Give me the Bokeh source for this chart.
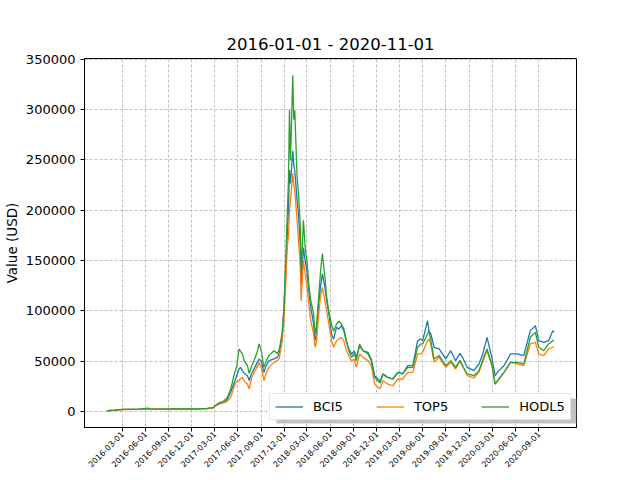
import math
import pandas as pd
from bokeh.plotting import figure
from bokeh.models import (Range1d, FixedTicker, SingleIntervalTicker,
                          DatetimeTickFormatter, BasicTickFormatter, Legend,
                          BoxAnnotation)
from bokeh.embed import file_html
from bokeh.resources import INLINE

# values, roughly every 1-4 weeks
dates = [
    "2016-01-01", "2016-02-01", "2016-03-05", "2016-05-01", "2016-06-12", "2016-06-20", "2016-08-01", "2016-10-01", "2016-12-01",
    "2017-01-01", "2017-02-01", "2017-02-22", "2017-03-05", "2017-03-20", "2017-04-02", "2017-04-20", "2017-05-05", "2017-05-18", "2017-05-28",
    "2017-06-06", "2017-06-12", "2017-06-19", "2017-06-27", "2017-07-09", "2017-07-16", "2017-07-25", "2017-08-04", "2017-08-15", "2017-08-24",
    "2017-09-02", "2017-09-12", "2017-09-20", "2017-10-02", "2017-10-22", "2017-11-04", "2017-11-12", "2017-11-23", "2017-11-30", "2017-12-07",
    "2017-12-13", "2017-12-18", "2017-12-22", "2017-12-26", "2018-01-04", "2018-01-08", "2018-01-12", "2018-01-21", "2018-01-27", "2018-02-03",
    "2018-02-06", "2018-02-15", "2018-02-22", "2018-03-01", "2018-03-07", "2018-03-15", "2018-03-27", "2018-04-02", "2018-04-08", "2018-04-15",
    "2018-04-24", "2018-05-01", "2018-05-11", "2018-05-18", "2018-05-28", "2018-06-06", "2018-06-14", "2018-06-26", "2018-07-05", "2018-07-15",
    "2018-07-25", "2018-08-04", "2018-08-14", "2018-08-24", "2018-09-04", "2018-09-12", "2018-09-25", "2018-10-08", "2018-10-28", "2018-11-10",
    "2018-11-16", "2018-11-23", "2018-12-06", "2018-12-15", "2018-12-26", "2019-01-14", "2019-02-03", "2019-02-23", "2019-03-14", "2019-04-03",
    "2019-04-23", "2019-05-12", "2019-05-25", "2019-06-01", "2019-06-20", "2019-06-26", "2019-07-03", "2019-07-16", "2019-08-05", "2019-08-31",
    "2019-09-20", "2019-10-09", "2019-10-26", "2019-11-05", "2019-11-24", "2019-12-20", "2020-01-09", "2020-01-25", "2020-02-10", "2020-03-01",
    "2020-03-13", "2020-03-28", "2020-04-17", "2020-05-13", "2020-06-08", "2020-07-04", "2020-07-30", "2020-08-19", "2020-09-01", "2020-09-21",
    "2020-10-10", "2020-10-27", "2020-11-01",
]

bci5 = [
    1000, 1500, 2300, 2400, 2800, 2700, 2600, 2600, 2700,
    2900, 3200, 3800, 6000, 8500, 9200, 12000, 20000, 29000, 36000,
    42400, 44000, 40800, 38000, 35800, 31000, 38000, 42400, 48000, 52400,
    50000, 39000, 45000, 50700, 52400, 54000, 58000, 75000, 103700, 140000,
    173000, 200000, 240000, 226600, 259000, 245000, 239500, 209700, 195000, 163000,
    123500, 163000, 150000, 140000, 123500, 105000, 87400, 70500, 78000, 103700,
    125000, 137000, 123500, 110000, 95000, 77000, 72000, 83800, 82000, 85500,
    80000, 68900, 62000, 57400, 60000, 54000, 65600, 60600, 59000, 52400,
    45000, 35800, 32500, 30000, 37500, 34100, 32500, 39100, 37500, 45700,
    45700, 70500, 72300, 70500, 90500, 80000, 77200, 64000, 62300, 52400,
    60600, 50700, 58000, 54000, 44000, 40800, 47400, 58000, 73900, 52400,
    35800, 40800, 45700, 57400, 57400, 55700, 80500, 85500, 70500, 68900,
    70500, 80500, 79000,
]

top5 = [
    1000, 1400, 2200, 2300, 2600, 2600, 2500, 2500, 2600,
    2800, 3000, 3500, 5500, 7500, 8500, 10000, 15000, 25800, 30000,
    30800, 33000, 34100, 30000, 27500, 22600, 33000, 39100, 44000, 49000,
    44000, 30800, 38000, 44000, 49000, 50700, 53000, 70000, 90000, 125000,
    163000, 175000, 200000, 209700, 236600, 225000, 219700, 189800, 170000, 143000,
    110000, 150000, 137000, 125000, 110000, 92000, 77500, 64000, 70000, 93700,
    115000, 123500, 110000, 100000, 85000, 70500, 64000, 70500, 72000, 73900,
    70000, 60600, 55000, 50700, 52000, 44000, 57400, 54000, 50700, 45700,
    38000, 27500, 24200, 23000, 30800, 27500, 25800, 32500, 32500, 39100,
    39100, 57400, 57400, 59000, 70500, 72000, 67300, 49000, 54000, 44000,
    49000, 42400, 50000, 45700, 35800, 33500, 39100, 50000, 60600, 45700,
    27500, 32500, 39100, 49000, 47400, 45700, 67300, 68900, 57400, 55700,
    62300, 64000, 65000,
]

hodl5 = [
    1000, 1500, 2300, 2400, 3600, 2900, 2600, 2700, 2800,
    3000, 3300, 4000, 6500, 9000, 9800, 14000, 23000, 37500, 45000,
    62300, 60000, 57400, 50000, 45700, 38000, 45000, 50700, 58000, 67300,
    60000, 44000, 50000, 55700, 60600, 57700, 62000, 78000, 100000, 150000,
    193000, 230000, 300000, 249500, 334000, 290000, 299000, 233000, 215000, 183000,
    137000, 190000, 163000, 150000, 130000, 112000, 97300, 77500, 85000, 110000,
    140000, 157000, 133500, 113600, 97000, 87000, 80000, 87000, 90000, 87000,
    82000, 70500, 60000, 54000, 58000, 50700, 67300, 60600, 57400, 50700,
    43000, 34100, 30800, 28500, 37500, 34100, 32500, 39100, 37500, 44000,
    44000, 64000, 67300, 67300, 77200, 80000, 70500, 52400, 55700, 45700,
    50700, 44000, 51000, 45700, 37500, 35800, 40800, 52000, 62300, 45700,
    27500, 32500, 39100, 49000, 49000, 47400, 73900, 78800, 64000, 60600,
    67300, 70500, 71000,
]

tick_dates = [
    "2016-03-01", "2016-06-01", "2016-09-01", "2016-12-01",
    "2017-03-01", "2017-06-01", "2017-09-01", "2017-12-01",
    "2018-03-01", "2018-06-01", "2018-09-01", "2018-12-01",
    "2019-03-01", "2019-06-01", "2019-09-01", "2019-12-01",
    "2020-03-01", "2020-06-01", "2020-09-01",
]

FONT = "DejaVu Sans"

x = pd.to_datetime(dates)
xpad = (x.max() - x.min()) * 0.05
lo = min(min(bci5), min(top5), min(hodl5))
hi = max(max(bci5), max(top5), max(hodl5))
ypad = (hi - lo) * 0.05

p = figure(width=640, height=480, x_axis_type="datetime",
           x_range=Range1d(x.min() - xpad, x.max() + xpad),
           y_range=Range1d(lo - ypad, hi + ypad),
           title="2016-01-01 - 2020-11-01",
           output_backend="svg", toolbar_location=None,
           min_border_left=80, min_border_right=64,
           min_border_top=58, min_border_bottom=53)

p.background_fill_color = "white"
p.border_fill_color = "white"
p.outline_line_color = "black"
p.outline_line_alpha = 1
p.outline_line_width = 1

p.title.text_font = FONT
p.title.text_font_size = "16.5px"
p.title.text_font_style = "normal"
p.title.text_color = "black"
p.title.align = "center"
p.title.standoff = 9

r1 = p.line(x, bci5, line_color="#1f77b4", line_width=1.3)
r2 = p.line(x, top5, line_color="#ff7f0e", line_width=1.3)
r3 = p.line(x, hodl5, line_color="#2ca02c", line_width=1.3)

xticks = [pd.Timestamp(d).value // 10**6 for d in tick_dates]
p.xaxis.ticker = FixedTicker(ticks=xticks, minor_ticks=[])
p.xgrid.ticker = p.xaxis.ticker
fmt = "%Y-%m-%d"
p.xaxis.formatter = DatetimeTickFormatter(
    milliseconds=fmt, seconds=fmt, minsec=fmt, minutes=fmt, hourmin=fmt,
    hours=fmt, days=fmt, months=fmt, years=fmt, strip_leading_zeros=False)
p.xaxis.major_label_orientation = math.pi / 4
p.xaxis.major_label_text_font_size = "8px"
p.xaxis.major_label_standoff = 1

p.yaxis.ticker = SingleIntervalTicker(interval=50000, num_minor_ticks=0)
p.ygrid.ticker = p.yaxis.ticker
p.yaxis.formatter = BasicTickFormatter(use_scientific=False)
p.yaxis.major_label_text_font_size = "13px"
p.yaxis.major_label_standoff = 5
p.yaxis.axis_label = "Value (USD)"
p.yaxis.axis_label_text_font = FONT
p.yaxis.axis_label_text_font_size = "13.5px"
p.yaxis.axis_label_text_font_style = "normal"
p.yaxis.axis_label_text_color = "black"
p.yaxis.axis_label_standoff = 3

for ax in (p.xaxis, p.yaxis):
    ax.major_label_text_font = FONT
    ax.major_label_text_color = "black"
    ax.axis_line_color = "black"
    ax.major_tick_line_color = "black"
    ax.major_tick_out = 4
    ax.major_tick_in = 0
    ax.minor_tick_line_color = None

p.grid.grid_line_color = "#b0b0b0"
p.grid.grid_line_dash = "3 2"
p.grid.grid_line_width = 0.8

# legend shadow, frame pixels from bottom-left
shadow = BoxAnnotation(left=192, right=495, bottom=4, top=29,
                       left_units="screen", right_units="screen",
                       bottom_units="screen", top_units="screen",
                       fill_color="#999999", fill_alpha=0.6, line_color=None)
p.add_layout(shadow)

legend = Legend(items=[("BCI5", [r1]), ("TOP5", [r2]), ("HODL5", [r3])],
                orientation="horizontal", location=(185, 7))
legend.label_text_font = FONT
legend.label_text_font_size = "13px"
legend.label_text_color = "black"
legend.glyph_width = 28
legend.glyph_height = 13
legend.label_height = 13
legend.label_standoff = 10
legend.spacing = 33
legend.padding = 5
legend.margin = 0
legend.border_line_color = "#cccccc"
legend.border_line_width = 1
legend.background_fill_alpha = 1
p.add_layout(legend)

open("out.html", "w").write(file_html(p, INLINE))
